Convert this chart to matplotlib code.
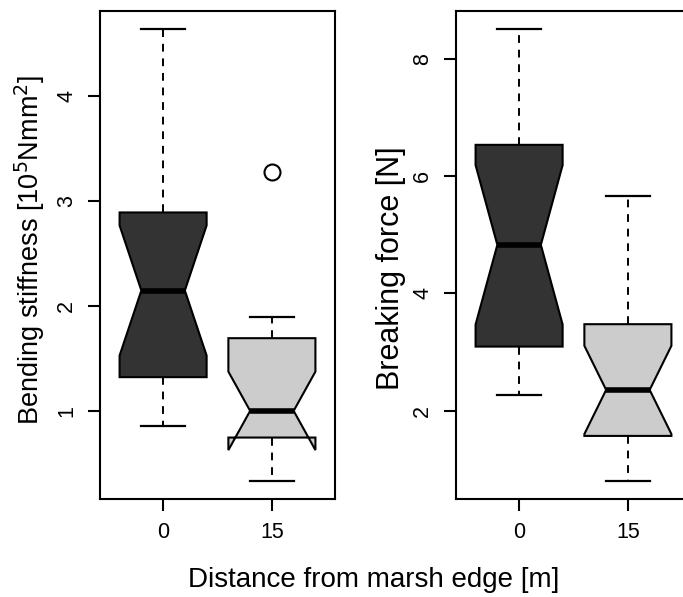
import numpy as np
import matplotlib
matplotlib.use("Agg")
import matplotlib.pyplot as plt

plt.rcParams["font.family"] = ["Liberation Sans", "DejaVu Sans"]

# Distance classes (m from marsh edge)
groups = ["0", "15"]
n_per_group = 16
box_colors = ["#333333", "#cccccc"]

# Bending stiffness [10^5 N mm^2]
stiff_whislo = [0.857, 0.333]
stiff_q1 = [1.321, 0.746]
stiff_med = [2.146, 1.000]
stiff_q3 = [2.889, 1.692]
stiff_whishi = [4.635, 1.889]
stiff_fliers = [[], [3.273]]

# Breaking force [N]
force_whislo = [2.268, 0.800]
force_q1 = [3.092, 1.568]
force_med = [4.828, 2.353]
force_q3 = [6.534, 3.474]
force_whishi = [8.509, 5.669]
force_fliers = [[], []]


def make_stats(lo, q1, med, q3, hi, fliers):
    stats = []
    for i in range(len(med)):
        iqr = q3[i] - q1[i]
        half = 1.58 * iqr / np.sqrt(n_per_group)
        stats.append(dict(whislo=lo[i], q1=q1[i], med=med[i], q3=q3[i],
                          whishi=hi[i], fliers=np.array(fliers[i]),
                          cilo=med[i] - half, cihi=med[i] + half))
    return stats


W, H = 683, 597
fig = plt.figure(figsize=(W / 100, H / 100), dpi=100)


def px_axes(x0, x1, top, bottom):
    return fig.add_axes([x0 / W, 1 - bottom / H, (x1 - x0) / W, (bottom - top) / H])


ax1 = px_axes(100, 335, 11, 499)
ax2 = px_axes(456, 691, 11, 499)

panels = [
    (ax1, make_stats(stiff_whislo, stiff_q1, stiff_med, stiff_q3, stiff_whishi, stiff_fliers),
     [1, 2, 3, 4]),
    (ax2, make_stats(force_whislo, force_q1, force_med, force_q3, force_whishi, force_fliers),
     [2, 4, 6, 8]),
]

for ax, stats, yt in panels:
    bp = ax.bxp(stats, positions=[1, 2], widths=0.8, capwidths=0.4,
                shownotches=True, patch_artist=True, manage_ticks=False,
                boxprops=dict(edgecolor="black", linewidth=1.5),
                medianprops=dict(color="black", linewidth=4, solid_capstyle="butt"),
                whiskerprops=dict(color="black", linewidth=1.4, linestyle=(0, (4, 3.5))),
                capprops=dict(color="black", linewidth=1.6),
                flierprops=dict(marker="o", markersize=11.5, markerfacecolor="none",
                                markeredgecolor="black", markeredgewidth=1.5))
    for patch, c in zip(bp["boxes"], box_colors):
        patch.set_facecolor(c)

    vals = []
    for s in stats:
        vals += [s["whislo"], s["whishi"]] + list(s["fliers"])
    lo, hi = min(vals), max(vals)
    pad = 0.04 * (hi - lo)
    ax.set_ylim(lo - pad, hi + pad)
    ax.set_xlim(0.42, 2.58)
    ax.set_xticks([1, 2])
    ax.set_xticklabels(groups)
    ax.set_yticks(yt)
    ax.set_yticklabels([str(v) for v in yt], rotation=90, va="center")
    ax.tick_params(length=8.5, width=1.5, labelsize=15.5, pad=8, color="black")
    for sp in ax.spines.values():
        sp.set_linewidth(1.5)

fig.text(30 / W, 1 - 250 / H, "Bending stiffness [10$^5$Nmm$^2$]", rotation=90,
         ha="center", va="center", fontsize=19.5)
fig.text(391 / W, 1 - 268 / H, "Breaking force [N]", rotation=90,
         ha="center", va="center", fontsize=22)
fig.text(374 / W, 1 - 580 / H, "Distance from marsh edge [m]",
         ha="center", va="center", fontsize=20)

fig.savefig("out.png", dpi=100)
